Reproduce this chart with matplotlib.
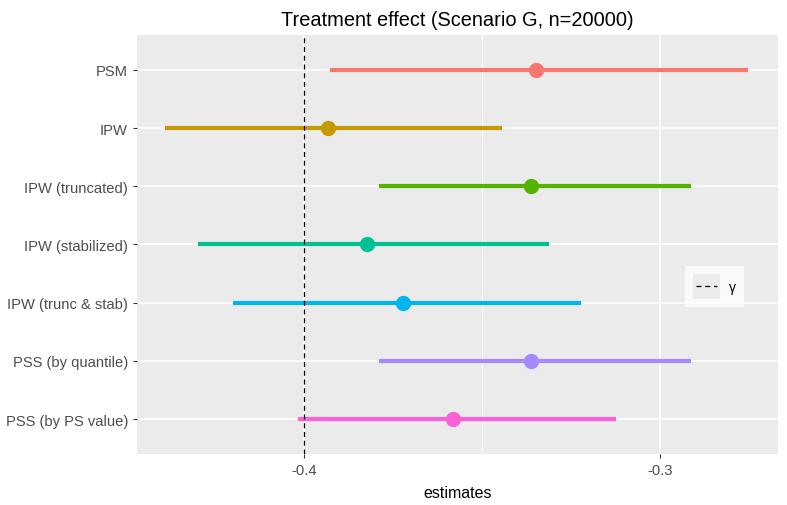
import numpy as np
import matplotlib.pyplot as plt
from matplotlib.lines import Line2D
from matplotlib.patches import Rectangle
from matplotlib.legend_handler import HandlerBase

plt.rcParams['font.family'] = ['Liberation Sans', 'DejaVu Sans']

methods = ['PSM', 'IPW', 'IPW (truncated)', 'IPW (stabilized)', 'IPW (trunc & stab)',
           'PSS (by quantile)', 'PSS (by PS value)']
estimates = [-0.3349, -0.3933, -0.3363, -0.3824, -0.3723, -0.3363, -0.3583]
lower = [-0.3928, -0.4391, -0.3790, -0.4299, -0.4200, -0.3790, -0.4018]
upper = [-0.2754, -0.3445, -0.2914, -0.3313, -0.3223, -0.2914, -0.3125]
colors = ['#F8766D', '#C49A00', '#53B400', '#00C094', '#00B6EB', '#A58AFF', '#FB61D7']
gamma = -0.4


class KeyHandler(HandlerBase):
    # ggplot-style legend key: grey square with the dashed line on it
    def create_artists(self, legend, orig_handle, xdescent, ydescent, width, height, fontsize, trans):
        bg = Rectangle((-xdescent, -ydescent), width, height,
                       facecolor='#EBEBEB', edgecolor='none', transform=trans)
        y = -ydescent + height / 2
        ln = Line2D([-xdescent + 2, -xdescent + width - 2], [y, y], color='black',
                    ls=(0, (4, 3)), lw=0.9, transform=trans)
        return [bg, ln]


fig = plt.figure(figsize=(7.87, 5.06), dpi=100)
ax = fig.add_axes([0.174, 0.1008, 0.8146, 0.8281])
ax.set_facecolor('#EBEBEB')

ypos = np.arange(len(methods))[::-1]
for y, m, lo, hi, c in zip(ypos, estimates, lower, upper, colors):
    ax.plot([lo, hi], [y, y], color=c, lw=3, solid_capstyle='butt', zorder=3)
    ax.plot(m, y, 'o', color=c, ms=10, zorder=4)

ax.axvline(gamma, color='black', ls=(0, (4, 3)), lw=0.9, zorder=5)

ax.set_xlim(-0.447, -0.267)
ax.set_ylim(-0.6, len(methods) - 0.4)
ax.set_yticks(ypos)
ax.set_yticklabels(methods)
ax.set_xticks([-0.4, -0.3])
ax.set_xticklabels(['-0.4', '-0.3'])
ax.set_xticks([-0.35], minor=True)
ax.grid(True, which='major', color='white', lw=1.1)
ax.grid(True, which='minor', axis='x', color='white', lw=0.6)
ax.set_axisbelow(True)
for s in ax.spines.values():
    s.set_visible(False)
ax.tick_params(axis='both', which='major', length=3, color='#333333',
               labelcolor='#4D4D4D', labelsize=10.6)
ax.tick_params(axis='x', which='minor', length=0)

ax.set_xlabel('estimates', fontsize=11.5, color='black', labelpad=6)
ax.set_title('Treatment effect (Scenario G, n=20000)', fontsize=14.4, pad=7)

handle = Line2D([], [], color='black', ls=(0, (4, 3)), lw=0.9)
leg = ax.legend([handle], ['γ'], loc='center left', bbox_to_anchor=(0.855, 0.40),
                frameon=True, fancybox=False, handlelength=1.9, handleheight=2.4,
                handletextpad=0.65, fontsize=10, borderpad=0.6, borderaxespad=0,
                handler_map={Line2D: KeyHandler()})
leg.get_frame().set_facecolor('white')
leg.get_frame().set_edgecolor('white')
leg.get_frame().set_linewidth(0)

fig.savefig('out.png', dpi=100)
